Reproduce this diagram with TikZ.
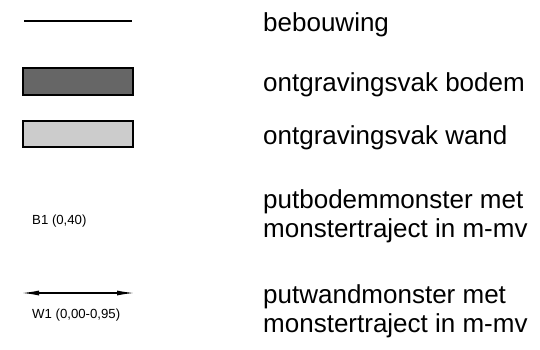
\documentclass[tikz,border=0pt]{standalone}
\usepackage{fontspec}
\setmainfont{Liberation Sans}
\usetikzlibrary{arrows.meta}
\begin{document}
\begin{tikzpicture}[x=1pt,y=-1pt,
  bigtxt/.style={anchor=base west,inner sep=0pt,font=\fontsize{26}{29}\selectfont,align=left},
  smalltxt/.style={anchor=base west,inner sep=0pt,font=\fontsize{13.2}{15}\selectfont},
  legline/.style={line width=1.8pt},
  legbox/.style={draw=black,line width=2pt},
  dblarrow/.style={line width=1.5pt,{Latex[length=18pt,width=5pt]}-{Latex[length=18pt,width=5pt]}}]
\useasboundingbox (0,0) rectangle (540,349);
% symbols
\coordinate (l1) at (24,21);
\coordinate (l2) at (132,21);
\draw[legline] (l1) -- (l2);
\node[legbox,fill=black!60,minimum width=110pt,minimum height=27pt,inner sep=0pt] (bodem) at (78,81.5) {};
\node[legbox,fill=black!20,minimum width=110pt,minimum height=26pt,inner sep=0pt] (wand) at (78,134) {};
\node[smalltxt] (b1) at (32,224) {B1 (0,40)};
\coordinate (a1) at (21,293);
\coordinate (a2) at (135,293);
\draw[dblarrow] (a1) -- (a2);
\node[smalltxt] (w1) at (32,318) {W1 (0,00-0,95)};
% labels
\node[bigtxt] (t1) at (263,31) {bebouwing};
\node[bigtxt] (t2) at (263,91) {ontgravingsvak bodem};
\node[bigtxt] (t3) at (263,144) {ontgravingsvak wand};
\node[bigtxt] (t4a) at (263,208) {putbodemmonster met};
\node[bigtxt] (t4b) at (263,237) {monstertraject in m-mv};
\node[bigtxt] (t5a) at (263,303) {putwandmonster met};
\node[bigtxt] (t5b) at (263,332) {monstertraject in m-mv};
\end{tikzpicture}
\end{document}
